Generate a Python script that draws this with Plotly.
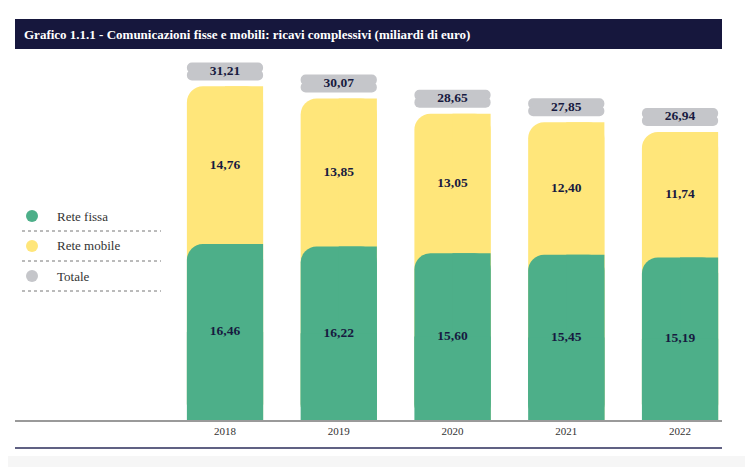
import plotly.graph_objects as go

years = ["2018", "2019", "2020", "2021", "2022"]
rete_fissa = [16.46, 16.22, 15.60, 15.45, 15.19]
rete_mobile = [14.76, 13.85, 13.05, 12.40, 11.74]
totale = [31.21, 30.07, 28.65, 27.85, 26.94]
legend_labels = ["Rete fissa", "Rete mobile", "Totale"]
title_text = "Grafico 1.1.1 - Comunicazioni fisse e mobili: ricavi complessivi (miliardi di euro)"

GREEN = "#4daf89"
YELLOW = "#ffe67a"
GRAY = "#c5c6ca"
NAVY = "#171a40"
SERIF = "Liberation Serif, Times New Roman, serif"

W = 0.67
R = 16
PILL_OFF = 1.40
PILL_HALF = 0.84
OV = 0.15


def fmt(v):
    return f"{v:.2f}".replace(".", ",")


zeros = [0] * len(years)
fig = go.Figure()

# yellow (full stack height, under green so the rounded green corner shows yellow)
fig.add_bar(x=years, y=totale, base=zeros, width=W, marker=dict(color=YELLOW, cornerradius=R, line_width=0),
            hoverinfo="skip", showlegend=False)
fig.add_bar(x=years, y=totale, base=zeros, width=W / 2, offset=0, marker=dict(color=YELLOW, line_width=0),
            hoverinfo="skip", showlegend=False)
# green
fig.add_bar(x=years, y=rete_fissa, base=zeros, width=W, marker=dict(color=GREEN, cornerradius=R, line_width=0),
            hoverinfo="skip", showlegend=False)
fig.add_bar(x=years, y=rete_fissa, base=zeros, width=W / 2, offset=0, marker=dict(color=GREEN, line_width=0),
            hoverinfo="skip", showlegend=False)
# square bottom of the green bars
fig.add_bar(x=years, y=[g / 2 for g in rete_fissa], base=zeros, width=W, marker=dict(color=GREEN, line_width=0),
            hoverinfo="skip", showlegend=False)
# total pills (two halves with rounded outer ends)
pill_c = [t + PILL_OFF for t in totale]
fig.add_bar(x=years, y=[PILL_HALF + OV] * len(years), base=[c - OV for c in pill_c], width=W,
            marker=dict(color=GRAY, cornerradius=9, line_width=0), hoverinfo="skip", showlegend=False)
fig.add_bar(x=years, y=[-PILL_HALF - OV] * len(years), base=[c + OV for c in pill_c], width=W,
            marker=dict(color=GRAY, cornerradius=9, line_width=0), hoverinfo="skip", showlegend=False)

# labels
lab_font = dict(family=SERIF, size=13.5, color=NAVY)
fig.add_scatter(x=years, y=[g / 2 for g in rete_fissa], mode="text",
                text=["<b>" + fmt(v) + "</b>" for v in rete_fissa],
                textfont=lab_font, hoverinfo="skip", showlegend=False)
fig.add_scatter(x=years, y=[g + m / 2 for g, m in zip(rete_fissa, rete_mobile)], mode="text",
                text=["<b>" + fmt(v) + "</b>" for v in rete_mobile], textfont=lab_font,
                hoverinfo="skip", showlegend=False)
fig.add_scatter(x=years, y=pill_c, mode="text", text=["<b>" + fmt(v) + "</b>" for v in totale],
                textfont=lab_font, hoverinfo="skip", showlegend=False)

# layout geometry (page coords minus 8px body margin)
OFF = 8
FW, FH = 753 - OFF, 467 - OFF
L, Rr, TOP, BOT = 15 - OFF, 722 - OFF, 60 - OFF, 420 - OFF
PW, PH = Rr - L, BOT - TOP


def px(xp):
    return (xp - OFF - L) / PW


def py(yp):
    return (BOT - (yp - OFF)) / PH


shapes = []
annotations = []
# title bar
shapes.append(dict(type="rect", xref="paper", yref="paper", x0=0, x1=1, y0=py(49), y1=py(19),
                   fillcolor="#16173d", line_width=0, layer="below"))
annotations.append(dict(xref="paper", yref="paper", x=px(22), y=py(34), xanchor="left", yanchor="middle",
                        text="<b>" + title_text + "</b>", showarrow=False,
                        font=dict(family=SERIF, size=13, color="white")))
# bottom navy line
shapes.append(dict(type="line", xref="paper", yref="paper", x0=0, x1=1, y0=py(448), y1=py(448),
                   line=dict(color="#2b2d5a", width=1.5)))
# bottom gray band
shapes.append(dict(type="rect", xref="paper", yref="paper", x0=px(0), x1=px(760), y0=py(470), y1=py(456),
                   fillcolor="#f6f6f6", line_width=0, layer="below"))
# legend
leg_colors = [GREEN, YELLOW, GRAY]
for i, (lab, col) in enumerate(zip(legend_labels, leg_colors)):
    cy = 216 + 30 * i
    shapes.append(dict(type="circle", xref="paper", yref="paper",
                       x0=px(26), x1=px(38), y0=py(cy + 6), y1=py(cy - 6),
                       fillcolor=col, line_width=0))
    annotations.append(dict(xref="paper", yref="paper", x=px(55), y=py(cy), xanchor="left", yanchor="middle",
                            text=lab, showarrow=False, font=dict(family=SERIF, size=13, color="#333333")))
    shapes.append(dict(type="line", xref="paper", yref="paper", x0=px(22), x1=px(161),
                       y0=py(cy + 15), y1=py(cy + 15), line=dict(color="#777777", width=1, dash="dot")))

fig.update_layout(
    width=FW, height=FH,
    margin=dict(l=L, r=FW - Rr, t=TOP, b=FH - BOT),
    paper_bgcolor="white", plot_bgcolor="white",
    barmode="overlay",
    shapes=shapes, annotations=annotations,
    xaxis=dict(type="category", range=[-1.846, 4.369], showline=True, linecolor="#9a9a9a", linewidth=1.5,
               ticks="", showgrid=False, zeroline=False,
               tickfont=dict(family=SERIF, size=11, color="#333333")),
    yaxis=dict(range=[0, PH / 10.69], visible=False, showgrid=False, zeroline=False),
    showlegend=False,
    hovermode=False,
)

fig.write_html("out.html")
